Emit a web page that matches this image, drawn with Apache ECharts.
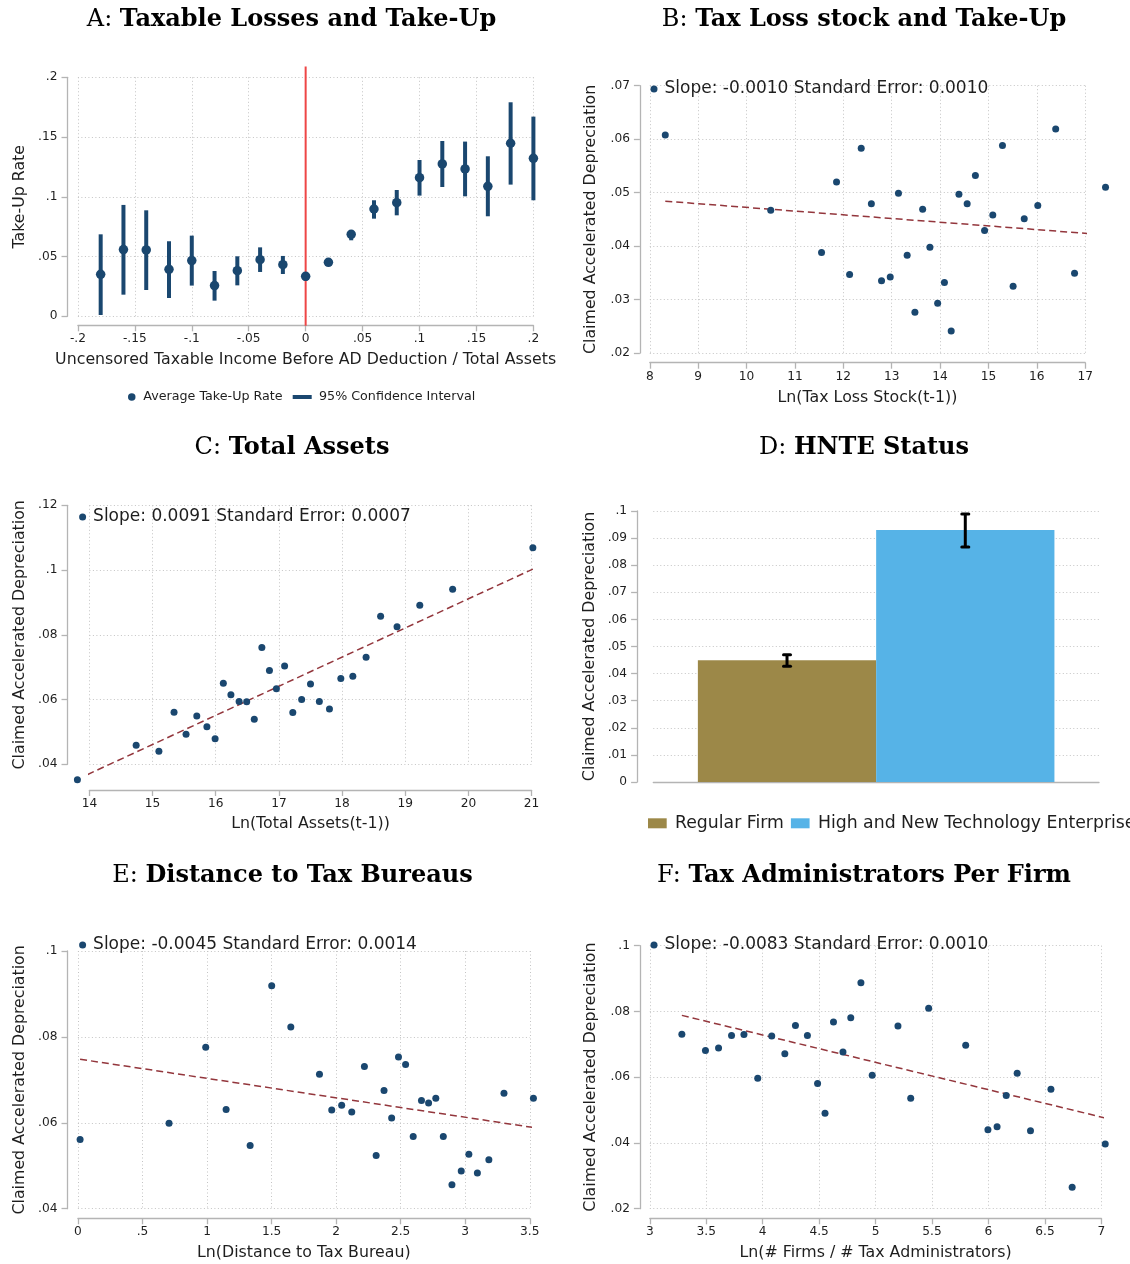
<!DOCTYPE html>
<html><head><meta charset="utf-8">
<script src="https://cdn.jsdelivr.net/npm/echarts@6/dist/echarts.min.js"></script>
<style>html,body{margin:0;padding:0;background:#fff}#c{width:1130px;height:1264px}</style>
</head><body><div id="c"></div>
<script>
// ---------------- DATA ----------------
// Panel A: binned take-up rate with 95% CI
const aX    = [-0.18,-0.16,-0.14,-0.12,-0.10,-0.08,-0.06,-0.04,-0.02,0.00,0.02,0.04,0.06,0.08,0.10,0.12,0.14,0.16,0.18,0.20];
const aMean = [0.0351,0.0558,0.0555,0.0393,0.0466,0.0257,0.0382,0.0474,0.0432,0.0335,0.0452,0.0686,0.0898,0.0951,0.1160,0.1275,0.1233,0.1088,0.1448,0.1322];
const aLow  = [0.0011,0.0181,0.0220,0.0153,0.0257,0.0131,0.0259,0.0371,0.0354,0.0298,0.0442,0.0636,0.0817,0.0845,0.1010,0.1082,0.1004,0.0837,0.1102,0.0971];
const aHigh = [0.0686,0.0932,0.0887,0.0628,0.0675,0.0379,0.0502,0.0577,0.0505,0.0365,0.0462,0.0722,0.0971,0.1057,0.1308,0.1467,0.1462,0.1339,0.1791,0.1671];
const aCutoffX = 0;
const aCutoffY = [-0.008, 0.209];
const aXTicks = [-0.2,-0.15,-0.1,-0.05,0,0.05,0.1,0.15,0.2];
const aYTicks = [0,0.05,0.1,0.15,0.2];

// Panel B
const bX = [8.32,10.50,11.55,11.86,12.13,12.37,12.58,12.79,12.97,13.14,13.32,13.48,13.64,13.79,13.95,14.09,14.23,14.39,14.56,14.73,14.92,15.09,15.29,15.51,15.74,16.02,16.39,16.78,17.42];
const bY = [0.0608,0.0467,0.0388,0.0520,0.0347,0.0583,0.0479,0.0335,0.0342,0.0499,0.0383,0.0276,0.0469,0.0398,0.0293,0.0332,0.0241,0.0497,0.0479,0.0532,0.0429,0.0458,0.0588,0.0325,0.0451,0.0476,0.0619,0.0349,0.0510];
const bFitX = [8.32, 17.42];
const bFitY = [0.0484, 0.0421];
const bXTicks = [8,9,10,11,12,13,14,15,16,17];
const bYTicks = [0.02,0.03,0.04,0.05,0.06,0.07];

// Panel C
const cX = [13.81,14.74,15.10,15.34,15.53,15.70,15.86,15.99,16.12,16.24,16.37,16.49,16.61,16.73,16.85,16.96,17.09,17.22,17.36,17.50,17.64,17.80,17.98,18.17,18.38,18.61,18.87,19.23,19.75,21.02];
const cY = [0.0352,0.0459,0.0440,0.0561,0.0493,0.0549,0.0516,0.0479,0.0650,0.0615,0.0594,0.0593,0.0539,0.0761,0.0690,0.0633,0.0704,0.0560,0.0600,0.0648,0.0594,0.0571,0.0665,0.0672,0.0731,0.0857,0.0825,0.0891,0.0941,0.1069];
const cFitX = [13.81, 21.02];
const cFitY = [0.0354, 0.1003];
const cXTicks = [14,15,16,17,18,19,20,21];
const cYTicks = [0.04,0.06,0.08,0.10,0.12];

// Panel D
const dCats = ['Regular Firm', 'High and New Technology Enterprise'];
const dMean = [0.0449, 0.0930];
const dLow  = [0.0427, 0.0867];
const dHigh = [0.0470, 0.0989];
const dYTicks = [0,0.01,0.02,0.03,0.04,0.05,0.06,0.07,0.08,0.09,0.10];

// Panel E
const eX = [0.017,0.706,0.990,1.148,1.334,1.501,1.649,1.871,1.966,2.043,2.121,2.219,2.310,2.371,2.430,2.483,2.538,2.597,2.661,2.716,2.772,2.830,2.897,2.969,3.028,3.094,3.183,3.300,3.528];
const eY = [0.0561,0.0599,0.0776,0.0631,0.0547,0.0919,0.0823,0.0713,0.0630,0.0641,0.0625,0.0731,0.0524,0.0675,0.0611,0.0753,0.0736,0.0568,0.0652,0.0646,0.0657,0.0568,0.0456,0.0488,0.0527,0.0483,0.0514,0.0669,0.0657];
const eFitX = [0.017, 3.528];
const eFitY = [0.0748, 0.0589];
const eXTicks = [0,0.5,1,1.5,2,2.5,3,3.5];
const eYTicks = [0.04,0.06,0.08,0.10];

// Panel F
const fX = [3.284,3.493,3.609,3.724,3.834,3.956,4.080,4.196,4.290,4.396,4.486,4.552,4.627,4.711,4.780,4.870,4.970,5.198,5.311,5.470,5.798,5.995,6.076,6.157,6.254,6.372,6.553,6.741,7.034];
const fY = [0.0731,0.0681,0.0689,0.0727,0.0730,0.0597,0.0725,0.0671,0.0757,0.0727,0.0581,0.0490,0.0768,0.0677,0.0781,0.0887,0.0606,0.0756,0.0536,0.0810,0.0697,0.0440,0.0449,0.0544,0.0612,0.0437,0.0563,0.0265,0.0397];
const fFitX = [3.284, 7.034];
const fFitY = [0.0788, 0.0476];
const fXTicks = [3,3.5,4,4.5,5,5.5,6,6.5,7];
const fYTicks = [0.02,0.04,0.06,0.08,0.10];

// Texts
const titles = [
  ['A:', 'Taxable Losses and Take-Up'],
  ['B:', 'Tax Loss stock and Take-Up'],
  ['C:', 'Total Assets'],
  ['D:', 'HNTE Status'],
  ['E:', 'Distance to Tax Bureaus'],
  ['F:', 'Tax Administrators Per Firm']
];
const xNames = ['Uncensored Taxable Income Before AD Deduction / Total Assets', 'Ln(Tax Loss Stock(t-1))', 'Ln(Total Assets(t-1))', '', 'Ln(Distance to Tax Bureau)', 'Ln(# Firms / # Tax Administrators)'];
const yNames = ['Take-Up Rate', 'Claimed Accelerated Depreciation', 'Claimed Accelerated Depreciation', 'Claimed Accelerated Depreciation', 'Claimed Accelerated Depreciation', 'Claimed Accelerated Depreciation'];
const aLegend = ['Average Take-Up Rate', '95% Confidence Interval'];
const slopeLabels = {
  B: 'Slope: -0.0010 Standard Error: 0.0010',
  C: 'Slope: 0.0091 Standard Error: 0.0007',
  E: 'Slope: -0.0045 Standard Error: 0.0014',
  F: 'Slope: -0.0083 Standard Error: 0.0010'
};

// ---------------- STYLE / LAYOUT ----------------
const NAVY = '#1a476f', FIT = '#93363c', GRIDC = '#c4c4c4', AXC = '#b4b4b4', TXT = '#1e1e1e';
const FONT = 'DejaVu Sans', SERIF = 'DejaVu Serif';
const gridBoxes = [
  {left: 77.9,  top: 77.3,  width: 455.5, height: 239},
  {left: 649.8, top: 85.7,  width: 435.4, height: 267.3},
  {left: 89.4,  top: 505.3, width: 442.2, height: 259},
  {left: 653.3, top: 511,   width: 445.7, height: 271},
  {left: 77.9,  top: 951,   width: 451.9, height: 257.7},
  {left: 649.8, top: 945.7, width: 451.6, height: 263}
];
const yOff = [10.4, 9.9, 21.9, 16.2, 10.4, 9.9];
const xOff = [9, 9.7, 25.7, 0, 9.6, 9.6];
const yGap = [40, 41, 40, 38.8, 40, 41];
const xGap = [27, 27, 25.6, 0, 26.7, 26.7];
const titlePos = [[291.5, 8], [864, 8], [292, 436], [864, 436], [292.5, 864], [864, 864]];

function fmt(v) {
  const r = Math.round(v * 10000) / 10000;
  return String(r).replace(/^(-?)0\./, '$1.');
}
function valueAxis(i, ticks, isY) {
  const step = Math.round((ticks[1] - ticks[0]) * 1e6) / 1e6;
  return {
    type: 'value', gridIndex: i, position: isY ? 'left' : 'bottom',
    offset: isY ? yOff[i] : xOff[i],
    min: ticks[0], max: ticks[ticks.length - 1], interval: step,
    name: isY ? yNames[i] : xNames[i], nameLocation: 'middle', nameGap: isY ? yGap[i] : xGap[i],
    nameMoveOverlap: false,
    nameTextStyle: {fontFamily: FONT, fontSize: 15.8, color: TXT},
    axisLine: {show: true, onZero: false, lineStyle: {color: AXC, width: 1.3}},
    axisTick: {show: true, length: 6, lineStyle: {color: AXC, width: 1.3}},
    axisLabel: {fontFamily: FONT, fontSize: 12.2, color: TXT, margin: isY ? 10 : 8, formatter: fmt},
    splitLine: {show: true, lineStyle: {type: [1, 2.5], color: GRIDC, width: 1}}
  };
}
function scatterSeries(name, i, xs, ys, size) {
  return {type: 'scatter', name: name, xAxisIndex: i, yAxisIndex: i,
    data: xs.map((x, k) => [x, ys[k]]), symbol: 'circle', symbolSize: size,
    itemStyle: {color: NAVY, opacity: 1}, clip: false, z: 4, silent: true};
}
function fitSeries(i, xs, ys) {
  return {type: 'line', xAxisIndex: i, yAxisIndex: i, data: xs.map((x, k) => [x, ys[k]]),
    symbol: 'none', lineStyle: {color: FIT, width: 1.5, type: [7, 4]}, clip: false, silent: true, z: 3};
}
function oneLegend(name, icon, left, top, w, h, fs, padL) {
  return {left: left, top: top, padding: 0, itemWidth: w, itemHeight: h, selectedMode: false,
    symbolKeepAspect: true,
    textStyle: {fontFamily: FONT, fontSize: fs, color: TXT, padding: [0, 0, 0, padL]},
    data: [{name: name, icon: icon}]};
}

const xAxes = [
  valueAxis(0, aXTicks, false), valueAxis(1, bXTicks, false), valueAxis(2, cXTicks, false),
  {type: 'category', gridIndex: 3, data: [''], position: 'bottom',
   axisLine: {show: true, lineStyle: {color: AXC, width: 1.3}}, axisTick: {show: false},
   axisLabel: {show: false}, splitLine: {show: false}},
  valueAxis(4, eXTicks, false), valueAxis(5, fXTicks, false)
];
const yAxes = [
  valueAxis(0, aYTicks, true), valueAxis(1, bYTicks, true), valueAxis(2, cYTicks, true),
  valueAxis(3, dYTicks, true),
  valueAxis(4, eYTicks, true), valueAxis(5, fYTicks, true)
];

const series = [
  // A
  {type: 'line', xAxisIndex: 0, yAxisIndex: 0, data: aCutoffY.map(y => [aCutoffX, y]), symbol: 'none',
   lineStyle: {color: '#ee4646', width: 2}, clip: false, silent: true, z: 1},
  {type: 'custom', name: aLegend[1], xAxisIndex: 0, yAxisIndex: 0,
   data: aX.map((x, k) => [x, aLow[k], aHigh[k]]), encode: {x: 0, y: [1, 2]},
   itemStyle: {color: NAVY}, clip: false, silent: true, z: 3,
   renderItem: function (p, api) {
     const a = api.coord([api.value(0), api.value(1)]);
     const b = api.coord([api.value(0), api.value(2)]);
     return {type: 'line', shape: {x1: a[0], y1: a[1], x2: b[0], y2: b[1]}, style: {stroke: NAVY, lineWidth: 4}};
   }},
  scatterSeries(aLegend[0], 0, aX, aMean, 9.5),
  // B
  fitSeries(1, bFitX, bFitY), scatterSeries(slopeLabels.B, 1, bX, bY, 7),
  // C
  fitSeries(2, cFitX, cFitY), scatterSeries(slopeLabels.C, 2, cX, cY, 7),
  // D
  {type: 'bar', name: dCats[0], xAxisIndex: 3, yAxisIndex: 3, data: [dMean[0]], barGap: '0%', barCategoryGap: '20%',
   itemStyle: {color: '#9c8848'}, silent: true},
  {type: 'bar', name: dCats[1], xAxisIndex: 3, yAxisIndex: 3, data: [dMean[1]], barGap: '0%', barCategoryGap: '20%',
   itemStyle: {color: '#56b3e7'}, silent: true},
  {type: 'custom', xAxisIndex: 3, yAxisIndex: 3, data: dMean.map((m, k) => [0, dLow[k], dHigh[k], k]),
   encode: {x: 0, y: [1, 2]}, silent: true, z: 5,
   renderItem: function (p, api) {
     const k = api.value(3);
     const band = api.size([1, 0])[0];
     const barW = band * 0.8 / dMean.length;
     const lo = api.coord([0, api.value(1)]);
     const hi = api.coord([0, api.value(2)]);
     const cx = lo[0] - band * 0.4 + barW * (k + 0.5);
     const hw = 3.5, st = {stroke: '#000', lineWidth: 3, lineCap: 'round'};
     return {type: 'group', children: [
       {type: 'line', shape: {x1: cx, y1: lo[1], x2: cx, y2: hi[1]}, style: {stroke: '#000', lineWidth: 3}},
       {type: 'line', shape: {x1: cx - hw, y1: lo[1], x2: cx + hw, y2: lo[1]}, style: st},
       {type: 'line', shape: {x1: cx - hw, y1: hi[1], x2: cx + hw, y2: hi[1]}, style: st}
     ]};
   }},
  // E
  fitSeries(4, eFitX, eFitY), scatterSeries(slopeLabels.E, 4, eX, eY, 7),
  // F
  fitSeries(5, fFitX, fFitY), scatterSeries(slopeLabels.F, 5, fX, fY, 7)
];

const option = {
  animation: false,
  backgroundColor: '#fff',
  title: titles.map((t, i) => ({
    text: '{n|' + t[0] + ' }{b|' + t[1] + '}', left: titlePos[i][0], top: titlePos[i][1],
    textAlign: 'center', padding: 0,
    textStyle: {fontWeight: 'normal', rich: {
      n: {fontFamily: SERIF, fontSize: 24, fontWeight: 'normal', color: '#000'},
      b: {fontFamily: SERIF, fontSize: 24, fontWeight: 'bold', color: '#000'}
    }}
  })),
  grid: gridBoxes.map(g => Object.assign({containLabel: false, outerBoundsMode: 'none'}, g)),
  xAxis: xAxes,
  yAxis: yAxes,
  legend: [
    oneLegend(aLegend[0], 'circle', 128, 390.5, 7.5, 7.5, 12.7, 2.8),
    oneLegend(aLegend[1], 'rect', 292.7, 390.5, 19, 4, 12.7, 2.3),
    oneLegend(slopeLabels.B, 'circle', 650.5, 80.5, 7, 7, 17, 2),
    oneLegend(slopeLabels.C, 'circle', 79.1, 508.5, 7, 7, 17, 2),
    oneLegend(slopeLabels.E, 'circle', 79.1, 936.5, 7, 7, 17, 2),
    oneLegend(slopeLabels.F, 'circle', 650.5, 936.5, 7, 7, 17, 2),
    {left: 648, top: 814.8, width: 900, padding: 0, itemWidth: 18.7, itemHeight: 10, itemGap: 7, selectedMode: false,
     textStyle: {fontFamily: FONT, fontSize: 17.3, color: TXT, padding: [0, 0, 0, 3.3]},
     data: [{name: dCats[0], icon: 'rect'}, {name: dCats[1], icon: 'rect'}]}
  ],
  series: series
};
const chart = echarts.init(document.getElementById('c'), null, {renderer: 'canvas'});
chart.setOption(option);
</script>
</body></html>
